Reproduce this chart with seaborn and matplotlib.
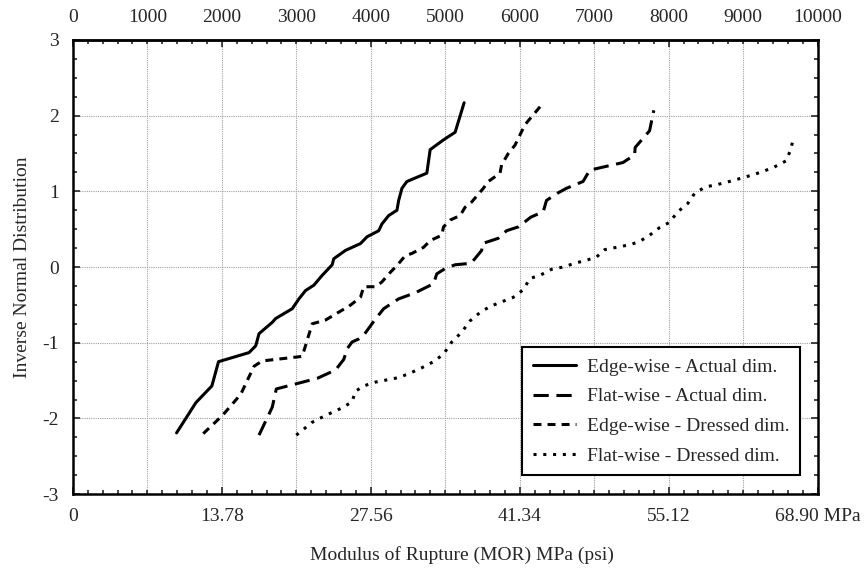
import matplotlib
matplotlib.use("Agg")
import matplotlib.pyplot as plt
import seaborn as sns
import pandas as pd
from matplotlib.ticker import MultipleLocator

# MOR in psi vs inverse normal score
edge_actual_psi = [1392, 1652, 1866, 1955, 2365, 2455, 2499, 2677, 2722, 2945, 3035, 3124,
                   3235, 3347, 3481, 3503, 3660, 3861, 3950, 4106, 4150, 4240, 4351, 4374,
                   4418, 4485, 4752, 4797, 4976, 5132, 5253]
edge_actual_z = [-2.19, -1.79, -1.57, -1.25, -1.13, -1.04, -0.88, -0.73, -0.68, -0.55, -0.42, -0.31,
                 -0.24, -0.11, 0.03, 0.11, 0.22, 0.31, 0.40, 0.48, 0.57, 0.68, 0.75, 0.88,
                 1.04, 1.13, 1.24, 1.55, 1.68, 1.78, 2.17]

flat_actual_psi = [2499, 2677, 2731, 3280, 3526, 3637, 3682, 3748, 3838, 3905, 4052, 4173,
                   4374, 4597, 4842, 4886, 4998, 5132, 5347, 5489, 5498, 5712, 5823, 5980,
                   6150, 6315, 6359, 6515, 6627, 6850, 6940, 7385, 7542, 7550, 7743, 7800]
flat_actual_z = [-2.22, -1.85, -1.61, -1.47, -1.36, -1.22, -1.08, -0.99, -0.95, -0.90, -0.70, -0.55,
                 -0.42, -0.34, -0.22, -0.09, -0.02, 0.03, 0.05, 0.22, 0.31, 0.38, 0.48, 0.53,
                 0.66, 0.73, 0.88, 0.98, 1.04, 1.13, 1.28, 1.38, 1.48, 1.58, 1.80, 2.07]

edge_dressed_psi = [1750, 2008, 2254, 2432, 2543, 3079, 3213, 3392, 3614, 3704, 3861, 3905,
                    4061, 4146, 4262, 4351, 4463, 4552, 4708, 4798, 4953, 4976, 5065, 5199,
                    5266, 5355, 5511, 5578, 5735, 5756, 5846, 5936, 6070, 6292]
edge_dressed_z = [-2.20, -1.96, -1.68, -1.31, -1.24, -1.18, -0.75, -0.70, -0.57, -0.52, -0.40, -0.26,
                  -0.26, -0.20, -0.07, 0.02, 0.15, 0.18, 0.26, 0.35, 0.42, 0.53, 0.62, 0.68,
                  0.79, 0.86, 1.04, 1.13, 1.24, 1.35, 1.50, 1.61, 1.88, 2.14]

flat_dressed_psi = [2999, 3213, 3392, 3614, 3748, 3794, 3905, 4061, 4374, 4530, 4686, 4842,
                    4976, 5087, 5221, 5333, 5467, 5601, 5756, 5913, 6047, 6137, 6271, 6426,
                    6583, 6739, 6894, 7028, 7141, 7296, 7452, 7596, 7743, 7876, 8010, 8122,
                    8256, 8353, 8501, 8657, 8814, 8961, 9103, 9259, 9416, 9572, 9639, 9675]
flat_dressed_z = [-2.22, -2.05, -1.96, -1.86, -1.78, -1.64, -1.57, -1.52, -1.46, -1.40, -1.33, -1.25,
                  -1.15, -0.99, -0.86, -0.71, -0.60, -0.52, -0.46, -0.40, -0.30, -0.15, -0.11, -0.03,
                  0.00, 0.05, 0.09, 0.13, 0.23, 0.26, 0.29, 0.33, 0.42, 0.52, 0.59, 0.73,
                  0.84, 0.98, 1.06, 1.09, 1.13, 1.17, 1.21, 1.26, 1.32, 1.40, 1.55, 1.71]

series_names = ["Edge-wise - Actual dim.", "Flat-wise - Actual dim.",
                "Edge-wise - Dressed dim.", "Flat-wise - Dressed dim."]
psi_ticks = [0, 1000, 2000, 3000, 4000, 5000, 6000, 7000, 8000, 9000, 10000]
mpa_tick_psi = [0, 2000, 4000, 6000, 8000, 10000]
mpa_labels = ["0", "13.78", "27.56", "41.34", "55.12", "68.90 MPa"]

frames = []
for name, xs, zs in zip(series_names,
                        [edge_actual_psi, flat_actual_psi, edge_dressed_psi, flat_dressed_psi],
                        [edge_actual_z, flat_actual_z, edge_dressed_z, flat_dressed_z]):
    frames.append(pd.DataFrame({"psi": xs, "z": zs, "series": name}))
df = pd.concat(frames, ignore_index=True)

sns.set_style("ticks")
plt.rcParams["font.family"] = ["Liberation Serif", "DejaVu Serif"]
plt.rcParams["font.size"] = 14
plt.rcParams["axes.unicode_minus"] = False

fig = plt.figure(figsize=(8.68, 5.70), dpi=100)
ax = fig.add_axes([0.084, 0.133, 0.858, 0.797])

dash_styles = {
    "Edge-wise - Actual dim.": "",
    "Flat-wise - Actual dim.": (5, 2.5),
    "Edge-wise - Dressed dim.": (2.6, 2),
    "Flat-wise - Dressed dim.": (1, 2.2),
}
sns.lineplot(data=df, x="psi", y="z", hue="series", style="series",
             hue_order=series_names, style_order=series_names,
             palette=["black"] * 4, dashes=dash_styles, sort=False,
             estimator=None, linewidth=2.2, ax=ax)

ax.set_xlim(0, 10000)
ax.set_ylim(-3, 3)
ax.set_xticks(mpa_tick_psi)
ax.set_xticklabels(mpa_labels)
ax.xaxis.set_minor_locator(MultipleLocator(200))
ax.set_yticks([-3, -2, -1, 0, 1, 2, 3])
ax.yaxis.set_minor_locator(MultipleLocator(0.25))
ax.tick_params(which="both", direction="in", top=True, right=True, width=1.2)
ax.tick_params(which="major", length=5, labelsize=14, pad=10)
ax.tick_params(which="minor", length=3)

# grid every 1000 psi, every 1 unit
for v in psi_ticks[1:-1]:
    ax.axvline(v, color="#a0a0a0", linestyle=(0, (1, 1)), linewidth=0.8, zorder=0)
for v in [-2, -1, 0, 1, 2]:
    ax.axhline(v, color="#a0a0a0", linestyle=(0, (1, 1)), linewidth=0.8, zorder=0)

top = ax.secondary_xaxis("top")
top.set_xticks(psi_ticks)
top.set_xticklabels([str(t) for t in psi_ticks])
top.tick_params(which="both", direction="in", labelsize=14, length=0, pad=10)

for s in ax.spines.values():
    s.set_linewidth(1.8)
    s.set_color("black")
top.spines["top"].set_linewidth(1.8)

ax.set_xlabel("Modulus of Rupture (MOR) MPa (psi)", fontsize=14)
ax.xaxis.set_label_coords(0.523, -0.115)
ax.set_ylabel("Inverse Normal Distribution", fontsize=14)
ax.yaxis.set_label_coords(-0.056, 0.5)

leg = ax.legend(loc="lower right", bbox_to_anchor=(0.99, 0.02), fontsize=14,
                frameon=True, fancybox=False, edgecolor="black",
                handlelength=2.2, handletextpad=0.6, borderpad=0.55, labelspacing=0.62)
leg.get_frame().set_linewidth(1.5)
leg.get_frame().set_alpha(1)

fig.savefig("out.png", dpi=100)
